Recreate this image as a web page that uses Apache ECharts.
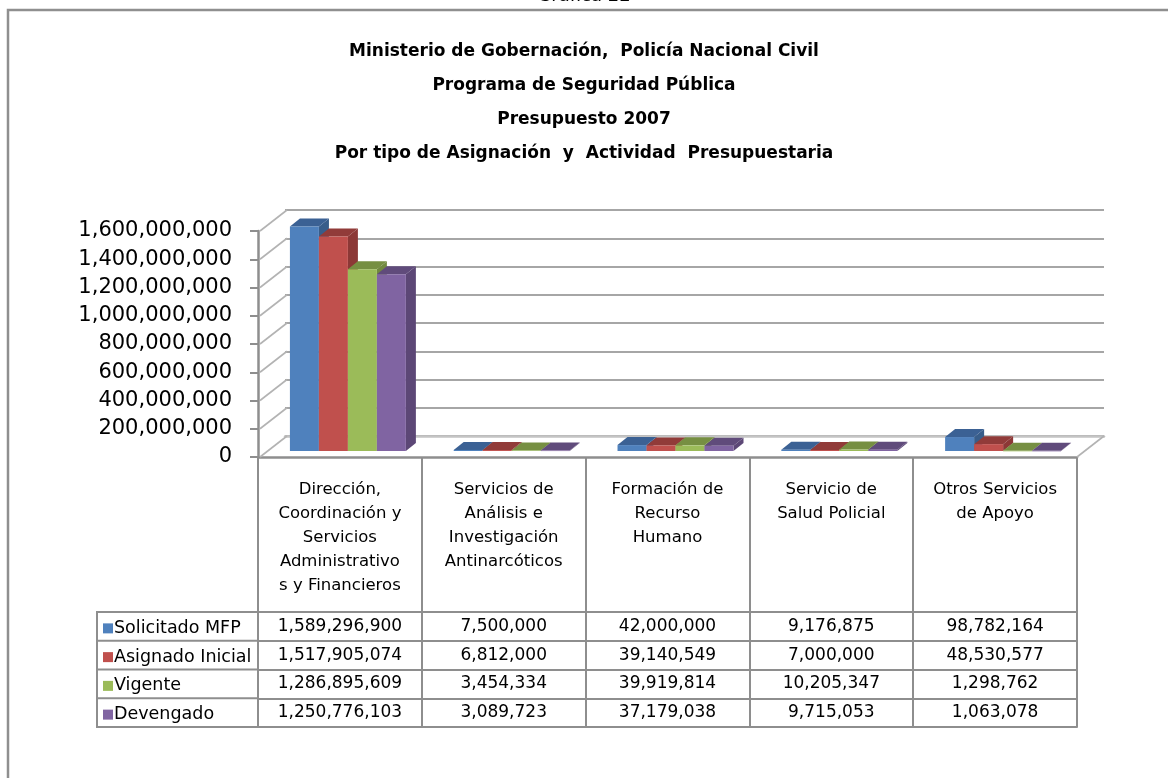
<!DOCTYPE html>
<html>
<head>
<meta charset="utf-8">
<script src="https://cdn.jsdelivr.net/npm/echarts@6/dist/echarts.min.js"></script>
<style>
html,body{margin:0;padding:0;background:#fff;}
#c{width:1168px;height:778px;}
</style>
</head>
<body>
<div id="c"></div>
<script>
// ---- data ----
const categories = [
  "Dirección,\nCoordinación y\nServicios\nAdministrativo\ns y Financieros",
  "Servicios de\nAnálisis e\nInvestigación\nAntinarcóticos",
  "Formación de\nRecurso\nHumano",
  "Servicio de\nSalud Policial",
  "Otros Servicios\nde Apoyo"
];
const seriesNames = ["Solicitado MFP", "Asignado Inicial", "Vigente", "Devengado"];
const solicitado = [1589296900, 7500000, 42000000, 9176875, 98782164];
const asignado   = [1517905074, 6812000, 39140549, 7000000, 48530577];
const vigente    = [1286895609, 3454334, 39919814, 10205347, 1298762];
const devengado  = [1250776103, 3089723, 37179038, 9715053, 1063078];
const yTicks = [0, 200000000, 400000000, 600000000, 800000000, 1000000000, 1200000000, 1400000000, 1600000000];
const titleLines = [
  "Ministerio de Gobernación,  Policía Nacional Civil",
  "Programa de Seguridad Pública",
  "Presupuesto 2007",
  "Por tipo de Asignación  y  Actividad  Presupuestaria"
];
const topCaption = "Gráfica 22";

// ---- styling / layout ----
const FONT = "DejaVu Sans";
const rows = [solicitado, asignado, vigente, devengado];
const faceColors = [
  {front: "#4F81BD", top: "#3B6194", side: "#385D8A"},
  {front: "#C0504D", top: "#913B39", side: "#8C3836"},
  {front: "#9BBB59", top: "#768F42", side: "#71893F"},
  {front: "#8064A2", top: "#604B7B", side: "#5C4776"}
];
const G = {left: 258, right: 1077, top: 231, bottom: 457};
const DEPTH = {dx: 27, dy: -21};
const FRONT_OFF = {dx: 8, dy: -6};
const BAR_D = {dx: 10, dy: -8};
const ROW_H = 28.75;
const HEADER_H = 155;
const LINE_C = "#8e8e8e";
const fmt = v => v.toLocaleString("en-US");

function barRender(k) {
  return function (params, api) {
    const i = api.value(0), v = api.value(1);
    const base = api.coord([i, 0]);
    const top = api.coord([i, v]);
    const band = api.size([1, 0])[0];
    const bw = band * 0.177;
    const x0 = base[0] - 2 * bw + k * bw + FRONT_OFF.dx;
    const yT = top[1] + FRONT_OFF.dy;
    const yB = base[1] + FRONT_OFF.dy;
    const c = faceColors[k];
    return {
      type: "group",
      children: [
        {type: "polygon", shape: {points: [[x0 + bw, yT], [x0 + bw + BAR_D.dx, yT + BAR_D.dy], [x0 + bw + BAR_D.dx, yB + BAR_D.dy], [x0 + bw, yB]]}, style: {fill: c.side}},
        {type: "polygon", shape: {points: [[x0, yT], [x0 + bw, yT], [x0 + bw + BAR_D.dx, yT + BAR_D.dy], [x0 + BAR_D.dx, yT + BAR_D.dy]]}, style: {fill: c.top}},
        {type: "rect", shape: {x: x0, y: yT, width: bw, height: Math.max(yB - yT, 0.5)}, style: {fill: c.front}}
      ]
    };
  };
}

function wallRender(params, api) {
  const v = api.value(0);
  const p = api.coord([0, v]);
  const band = api.size([1, 0])[0];
  const xl = p[0] - band / 2 + 2;
  const children = [
    {type: "line", shape: {x1: xl, y1: p[1], x2: xl + DEPTH.dx, y2: p[1] + DEPTH.dy}, style: {stroke: "#b3b3b3", lineWidth: 1.6}}
  ];
  if (v === 0) {
    const pr = api.coord([categories.length - 1, 0]);
    const xr = pr[0] + band / 2;
    children.push({type: "line", shape: {x1: xr, y1: p[1], x2: xr + DEPTH.dx, y2: p[1] + DEPTH.dy}, style: {stroke: "#b3b3b3", lineWidth: 1.6}});
  }
  return {type: "group", children};
}

const xAxes = [{
  type: "category", gridIndex: 0, data: categories, position: "bottom",
  axisLine: {show: true, lineStyle: {color: LINE_C, width: 2.5}},
  axisTick: {show: true, interval: 0, length: HEADER_H, lineStyle: {color: LINE_C, width: 2}},
  axisLabel: {interval: 0, margin: 21, fontFamily: FONT, fontSize: 16.5, lineHeight: 24, color: "#000", align: "center"}
}];
rows.forEach((r, k) => {
  xAxes.push({
    type: "category", gridIndex: 0, data: categories, position: "bottom",
    offset: HEADER_H + k * ROW_H,
    axisLine: {show: true, lineStyle: {color: LINE_C, width: 2}},
    axisTick: {show: true, interval: 0, length: ROW_H, lineStyle: {color: LINE_C, width: 2}},
    axisLabel: {interval: 0, margin: 6, fontFamily: FONT, fontSize: 17, lineHeight: 17, color: "#000",
      formatter: (val, idx) => fmt(r[idx])}
  });
});
xAxes.push({
  type: "category", gridIndex: 0, data: categories, position: "bottom",
  offset: HEADER_H + rows.length * ROW_H,
  axisLine: {show: true, lineStyle: {color: LINE_C, width: 2}},
  axisTick: {show: false}, axisLabel: {show: false}
});
// back wall axis
xAxes.push({
  type: "category", gridIndex: 1, data: categories, position: "bottom",
  axisLine: {show: true, lineStyle: {color: "#c4c4c4", width: 2.5}},
  axisTick: {show: false}, axisLabel: {show: false}
});

const legendTop = G.bottom + HEADER_H;
const graphicEls = [
  {type: "polyline", shape: {points: [[8, 778], [8, 10], [1168, 10]]}, style: {stroke: "#8f8f8f", lineWidth: 2.5, fill: null}, z: 10},
  {type: "text", left: "center", top: -13, style: {text: topCaption, font: "18px " + FONT, fill: "#000"}},
  {type: "line", shape: {x1: 97, y1: legendTop, x2: 97, y2: legendTop + 4 * ROW_H}, style: {stroke: LINE_C, lineWidth: 2}}
];
for (let k = 0; k <= 4; k++) {
  const y = legendTop + k * ROW_H;
  graphicEls.push({type: "line", shape: {x1: 96, y1: y, x2: G.left, y2: y}, style: {stroke: LINE_C, lineWidth: 2}});
}

const series = rows.map((r, k) => ({
  name: seriesNames[k], type: "custom", xAxisIndex: 0, yAxisIndex: 0,
  renderItem: barRender(k),
  itemStyle: {color: faceColors[k].front},
  encode: {x: 0, y: 1},
  data: r.map((v, i) => [i, v]),
  z: 5
}));
series.unshift({
  name: "wall", type: "custom", xAxisIndex: 0, yAxisIndex: 0,
  renderItem: wallRender, silent: true,
  encode: {y: 0},
  data: yTicks.map(v => [v]),
  z: 3
});

const option = {
  animation: false,
  backgroundColor: "#fff",
  title: {
    text: titleLines.join("\n"), left: "center", top: 30,
    textStyle: {fontFamily: FONT, fontWeight: "bold", fontSize: 17, lineHeight: 34, color: "#000"}
  },
  legend: {
    data: seriesNames, orient: "vertical", left: 98, top: legendTop - 3,
    itemWidth: 10, itemHeight: 10, itemGap: 0, icon: "rect",
    textStyle: {fontFamily: FONT, fontSize: 17.5, lineHeight: ROW_H, color: "#000", padding: [0, 0, 0, -4]},
    selectedMode: false
  },
  grid: [
    {left: G.left, top: G.top, width: G.right - G.left, height: G.bottom - G.top},
    {left: G.left + DEPTH.dx, top: G.top + DEPTH.dy, width: G.right - G.left, height: G.bottom - G.top}
  ],
  xAxis: xAxes,
  yAxis: [
    {type: "value", gridIndex: 0, min: 0, max: 1600000000, interval: 200000000,
      axisLine: {show: true, lineStyle: {color: LINE_C, width: 2.5}},
      axisTick: {show: true, length: 8, lineStyle: {color: LINE_C, width: 2}},
      axisLabel: {margin: 26, fontFamily: FONT, fontSize: 21, color: "#000", formatter: v => fmt(v)},
      splitLine: {show: false}},
    {type: "value", gridIndex: 1, min: 0, max: 1600000000, interval: 200000000,
      axisLine: {show: false}, axisTick: {show: false}, axisLabel: {show: false},
      splitLine: {show: true, lineStyle: {color: "#a6a6a6", width: 2}}}
  ],
  graphic: graphicEls,
  series: series
};

const chart = echarts.init(document.getElementById("c"), null, {renderer: "canvas"});
chart.setOption(option);
</script>
</body>
</html>
